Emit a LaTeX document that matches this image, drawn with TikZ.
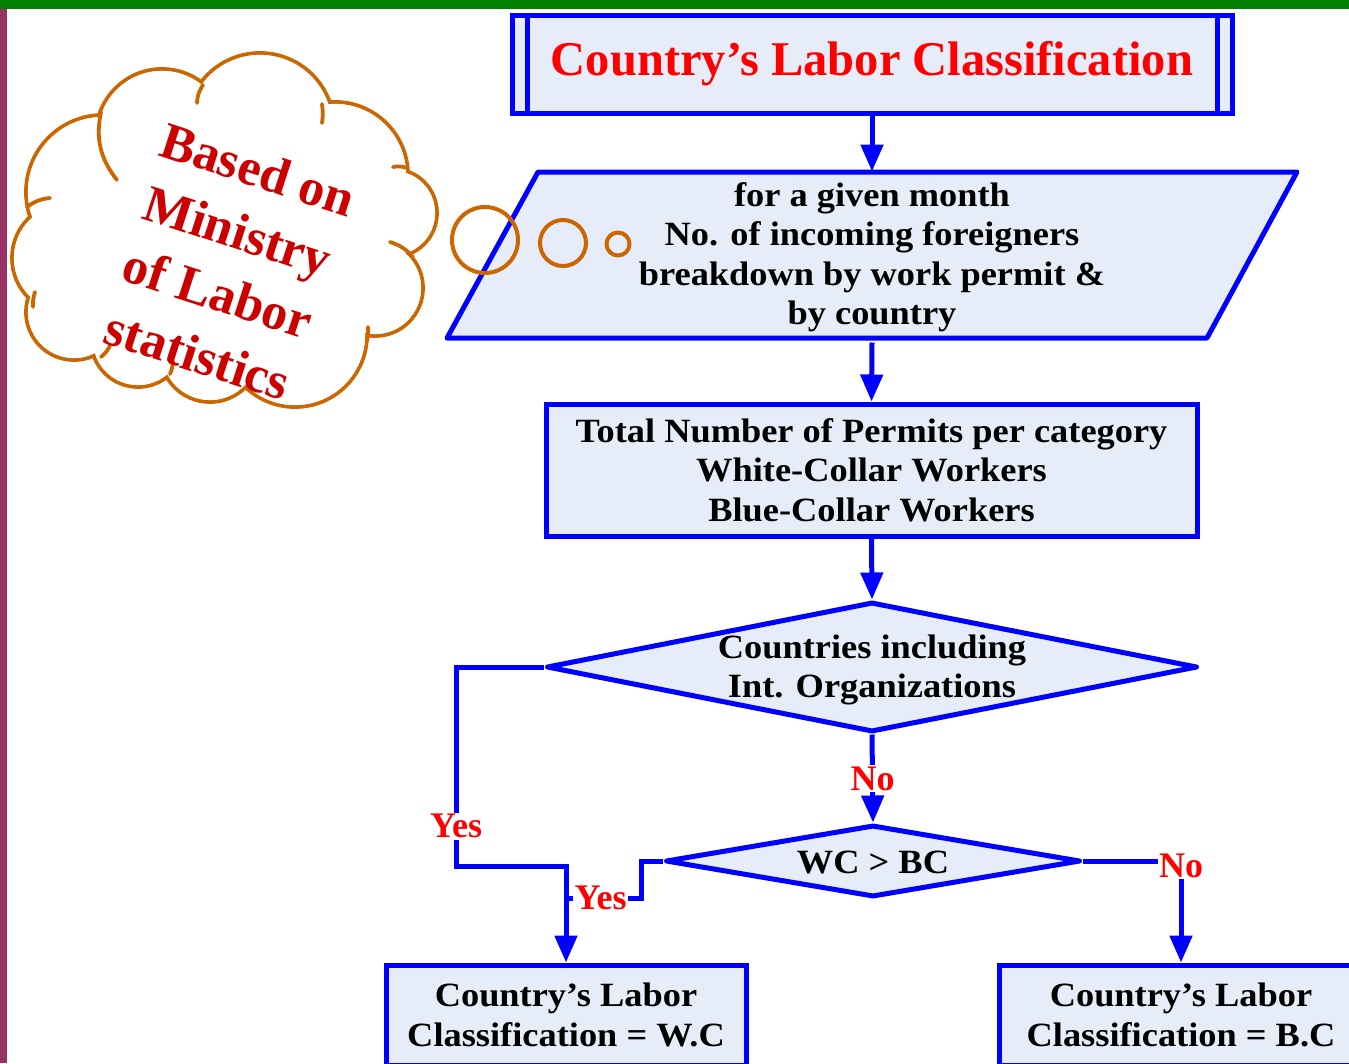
\documentclass[tikz,border=0pt]{standalone}
\usepackage{fontspec}
\setmainfont{Liberation Serif}
\newfontfamily\bodyfont[FakeStretch=1.07]{Liberation Serif}
\usetikzlibrary{arrows.meta,shapes.geometric}
\definecolor{flowblue}{RGB}{0,0,255}
\definecolor{boxfill}{RGB}{230,236,248}
\definecolor{cloudorange}{RGB}{204,102,0}
\definecolor{cloudred}{RGB}{204,0,0}
\definecolor{labred}{RGB}{255,0,0}
\definecolor{barGreen}{RGB}{0,128,0}
\definecolor{barPurple}{RGB}{153,51,102}
\begin{document}
\begin{tikzpicture}[x=1pt,y=-1pt,
  flowline/.style={draw=flowblue,line width=5pt,line join=miter},
  conn/.style={flowline,-{Triangle[length=27pt,width=22pt]}},
  bodytext/.style={align=center,text=black,font=\bodyfont\bfseries\fontsize{34}{39.5}\selectfont},
  procbox/.style={rectangle,draw=flowblue,line width=5pt,fill=boxfill,inner sep=0pt,outer sep=2.5pt,bodytext},
  decision/.style={diamond,draw=flowblue,line width=5pt,line join=round,fill=boxfill,inner sep=0pt,outer sep=2.5pt},
  lab/.style={fill=white,inner sep=1.5pt,text=labred,font=\bfseries\fontsize{36}{38}\selectfont},
  cloudline/.style={draw=cloudorange,line width=3.8pt,line cap=round},
  bubble/.style={draw=cloudorange,line width=4pt}
]
\useasboundingbox (0,0) rectangle (1349,1063);
\fill[barGreen] (0,0) rectangle (1349,9);
\fill[barPurple] (0,9) rectangle (7,1063);

% title
\node[rectangle,draw=flowblue,line width=5pt,fill=boxfill,minimum width=720pt,minimum height=98pt,inner sep=0pt,outer sep=2.5pt,
  text=labred,font=\bfseries\fontsize{48.5}{52}\selectfont] (title) at (872,64) {Country’s Labor Classification};
\draw[flowblue,line width=5pt] ([xshift=17.5pt]title.north west) -- ([xshift=17.5pt]title.south west);
\draw[flowblue,line width=5pt] ([xshift=-17.5pt]title.north east) -- ([xshift=-17.5pt]title.south east);

% parallelogram
\filldraw[flowline,fill=boxfill,line join=round] (538,172) -- (1297,172) -- (1207,338) -- (447,338) -- cycle;
\node[bodytext,minimum height=166pt,inner sep=0pt,outer sep=2.5pt] (para) at (872,257) {for a given month\\No. of incoming foreigners\\breakdown by work permit \&\\by country};

% permits box
\node[procbox,minimum width=651pt,minimum height=132pt] (perm) at (871.5,470) {Total Number of Permits per category\\White-Collar Workers\\Blue-Collar Workers};

% decisions
\node[decision,minimum width=651pt,minimum height=130pt] (d1) at (872,667) {};
\node[bodytext] (d1text) at (872,670) {Countries including\\Int. Organizations};
\node[decision,minimum width=415pt,minimum height=72pt] (d2) at (873,861) {};
\node[bodytext] (d2text) at (873,862) {WC > BC};

% results
\node[procbox,minimum width=360pt,minimum height=100pt] (wc) at (566,1015) {Country’s Labor\\Classification = W.C};
\node[procbox,minimum width=364pt,minimum height=100pt] (bc) at (1181,1015) {Country’s Labor\\Classification = B.C};

\coordinate (c1) at (456,866);
\coordinate (c2) at (641,898);
\coordinate (c3) at (566,898);

% connectors
\draw[conn] (title.south) -- (para.north);
\draw[conn] (para.south) -- (perm.north);
\draw[conn] (perm.south) -- (d1.north);
\draw[conn] (d1.south) -- node[lab] (no1) {No} (d2.north);
\draw[conn] (d1.west) -| node[lab,pos=0.9] (yes1) {Yes} (c1) -| (wc.north);
\draw[flowline] (d2.west) -| (c2) -- node[lab,xshift=-3pt] (yes2) {Yes} (c3);
\draw[conn] (d2.east) -| node[lab,pos=0.5,yshift=-5pt] (no2) {No} (bc.north);

% cloud (union of puffs)
\def\puffs{103/192/77, 162/135/66, 260/127/74, 335/175/73, 393/213/44, 375/288/48, 295/335/72, 210/352/50, 138/340/47, 74/312/48, 68/258/56}
\foreach \px/\py/\pr in \puffs { \draw[cloudline] (\px,\py) circle[radius=\pr pt]; }
\foreach \px/\py/\pr in \puffs { \fill[white] (\px,\py) circle[radius={\pr pt-1.9pt}]; }
\fill[white] (225,230) ellipse[x radius=160pt,y radius=115pt];
% inner arcs of the cloud
\draw[cloudline] (101,112) to[bend right=25] (117,180);
\draw[cloudline] (203,85) to[bend right=15] (197,103);
\draw[cloudline] (322,104) to[bend left=8] (322,123);
\draw[cloudline] (407,168) to[bend right=15] (393,167);
\draw[cloudline] (390,242) to[bend left=15] (413,257);
\draw[cloudline] (368,327) to[bend left=8] (367,341);
\draw[cloudline] (173,362) to[bend left=8] (170,374);
\draw[cloudline] (110,346) to[bend left=10] (101,357);
\draw[cloudline] (35,292) to[bend right=10] (33,307);
\draw[cloudline] (27,207) to[bend left=15] (50,198);

\node[align=center,text=cloudred,rotate=-18,font=\bfseries\fontsize{52}{65}\selectfont] (cloudtext) at (228,262) {Based on\\Ministry\\of Labor\\statistics};

% thought bubbles
\node[circle,bubble,minimum size=66pt,inner sep=0pt] (b1) at (485,240) {};
\node[circle,bubble,minimum size=46pt,inner sep=0pt] (b2) at (563,243) {};
\node[circle,bubble,minimum size=23pt,inner sep=0pt] (b3) at (618,244) {};
\end{tikzpicture}
\end{document}
